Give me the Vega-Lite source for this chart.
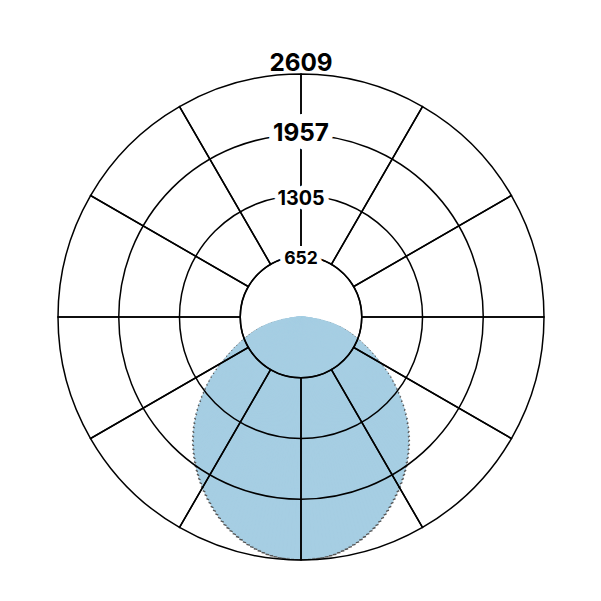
{
  "$schema": "https://vega.github.io/schema/vega-lite/v6.json",
  "width": 486,
  "height": 486,
  "autosize": {"type": "none"},
  "padding": {"left": 58, "top": 74, "right": 57, "bottom": 41},
  "background": "white",
  "config": {"view": {"stroke": null}, "font": "Inter"},
  "datasets": {
    "intensity": [
      {"gamma": -90, "cd": 0}, {"gamma": -89, "cd": 12}, {"gamma": -88, "cd": 27}, {"gamma": -87, "cd": 47},
      {"gamma": -86, "cd": 67}, {"gamma": -85, "cd": 94}, {"gamma": -84, "cd": 121}, {"gamma": -83, "cd": 157},
      {"gamma": -82, "cd": 193}, {"gamma": -81, "cd": 231}, {"gamma": -80, "cd": 268}, {"gamma": -79, "cd": 309},
      {"gamma": -78, "cd": 350}, {"gamma": -77, "cd": 385}, {"gamma": -76, "cd": 419}, {"gamma": -75, "cd": 451},
      {"gamma": -74, "cd": 482}, {"gamma": -73, "cd": 512}, {"gamma": -72, "cd": 542}, {"gamma": -71, "cd": 574},
      {"gamma": -70, "cd": 605}, {"gamma": -69, "cd": 638}, {"gamma": -68, "cd": 670}, {"gamma": -67, "cd": 705},
      {"gamma": -66, "cd": 739}, {"gamma": -65, "cd": 776}, {"gamma": -64, "cd": 812}, {"gamma": -63, "cd": 850},
      {"gamma": -62, "cd": 888}, {"gamma": -61, "cd": 927}, {"gamma": -60, "cd": 966}, {"gamma": -59, "cd": 1012},
      {"gamma": -58, "cd": 1058}, {"gamma": -57, "cd": 1103}, {"gamma": -56, "cd": 1148}, {"gamma": -55, "cd": 1190},
      {"gamma": -54, "cd": 1232}, {"gamma": -53, "cd": 1273}, {"gamma": -52, "cd": 1314}, {"gamma": -51, "cd": 1355},
      {"gamma": -50, "cd": 1396}, {"gamma": -49, "cd": 1439}, {"gamma": -48, "cd": 1481}, {"gamma": -47, "cd": 1522},
      {"gamma": -46, "cd": 1563}, {"gamma": -45, "cd": 1602}, {"gamma": -44, "cd": 1640}, {"gamma": -43, "cd": 1677},
      {"gamma": -42, "cd": 1714}, {"gamma": -41, "cd": 1750}, {"gamma": -40, "cd": 1785}, {"gamma": -39, "cd": 1818},
      {"gamma": -38, "cd": 1851}, {"gamma": -37, "cd": 1884}, {"gamma": -36, "cd": 1917}, {"gamma": -35, "cd": 1949},
      {"gamma": -34, "cd": 1980}, {"gamma": -33, "cd": 2010}, {"gamma": -32, "cd": 2040}, {"gamma": -31, "cd": 2070},
      {"gamma": -30, "cd": 2099}, {"gamma": -29, "cd": 2128}, {"gamma": -28, "cd": 2156}, {"gamma": -27, "cd": 2184},
      {"gamma": -26, "cd": 2211}, {"gamma": -25, "cd": 2238}, {"gamma": -24, "cd": 2264}, {"gamma": -23, "cd": 2290},
      {"gamma": -22, "cd": 2315}, {"gamma": -21, "cd": 2339}, {"gamma": -20, "cd": 2363}, {"gamma": -19, "cd": 2384},
      {"gamma": -18, "cd": 2405}, {"gamma": -17, "cd": 2425}, {"gamma": -16, "cd": 2444}, {"gamma": -15, "cd": 2462},
      {"gamma": -14, "cd": 2480}, {"gamma": -13, "cd": 2496}, {"gamma": -12, "cd": 2511}, {"gamma": -11, "cd": 2525},
      {"gamma": -10, "cd": 2539}, {"gamma": -9, "cd": 2550}, {"gamma": -8, "cd": 2561}, {"gamma": -7, "cd": 2569},
      {"gamma": -6, "cd": 2576}, {"gamma": -5, "cd": 2581}, {"gamma": -4, "cd": 2585}, {"gamma": -3, "cd": 2588},
      {"gamma": -2, "cd": 2591}, {"gamma": -1, "cd": 2592}, {"gamma": 0, "cd": 2593}, {"gamma": 1, "cd": 2592},
      {"gamma": 2, "cd": 2591}, {"gamma": 3, "cd": 2588}, {"gamma": 4, "cd": 2585}, {"gamma": 5, "cd": 2581},
      {"gamma": 6, "cd": 2576}, {"gamma": 7, "cd": 2569}, {"gamma": 8, "cd": 2561}, {"gamma": 9, "cd": 2550},
      {"gamma": 10, "cd": 2539}, {"gamma": 11, "cd": 2525}, {"gamma": 12, "cd": 2511}, {"gamma": 13, "cd": 2496},
      {"gamma": 14, "cd": 2480}, {"gamma": 15, "cd": 2462}, {"gamma": 16, "cd": 2444}, {"gamma": 17, "cd": 2425},
      {"gamma": 18, "cd": 2405}, {"gamma": 19, "cd": 2384}, {"gamma": 20, "cd": 2363}, {"gamma": 21, "cd": 2339},
      {"gamma": 22, "cd": 2315}, {"gamma": 23, "cd": 2290}, {"gamma": 24, "cd": 2264}, {"gamma": 25, "cd": 2238},
      {"gamma": 26, "cd": 2211}, {"gamma": 27, "cd": 2184}, {"gamma": 28, "cd": 2156}, {"gamma": 29, "cd": 2128},
      {"gamma": 30, "cd": 2099}, {"gamma": 31, "cd": 2070}, {"gamma": 32, "cd": 2040}, {"gamma": 33, "cd": 2010},
      {"gamma": 34, "cd": 1980}, {"gamma": 35, "cd": 1949}, {"gamma": 36, "cd": 1917}, {"gamma": 37, "cd": 1884},
      {"gamma": 38, "cd": 1851}, {"gamma": 39, "cd": 1818}, {"gamma": 40, "cd": 1785}, {"gamma": 41, "cd": 1750},
      {"gamma": 42, "cd": 1714}, {"gamma": 43, "cd": 1677}, {"gamma": 44, "cd": 1640}, {"gamma": 45, "cd": 1602},
      {"gamma": 46, "cd": 1563}, {"gamma": 47, "cd": 1522}, {"gamma": 48, "cd": 1481}, {"gamma": 49, "cd": 1439},
      {"gamma": 50, "cd": 1396}, {"gamma": 51, "cd": 1355}, {"gamma": 52, "cd": 1314}, {"gamma": 53, "cd": 1273},
      {"gamma": 54, "cd": 1232}, {"gamma": 55, "cd": 1190}, {"gamma": 56, "cd": 1148}, {"gamma": 57, "cd": 1103},
      {"gamma": 58, "cd": 1058}, {"gamma": 59, "cd": 1012}, {"gamma": 60, "cd": 966}, {"gamma": 61, "cd": 927},
      {"gamma": 62, "cd": 888}, {"gamma": 63, "cd": 850}, {"gamma": 64, "cd": 812}, {"gamma": 65, "cd": 776},
      {"gamma": 66, "cd": 739}, {"gamma": 67, "cd": 705}, {"gamma": 68, "cd": 670}, {"gamma": 69, "cd": 638},
      {"gamma": 70, "cd": 605}, {"gamma": 71, "cd": 574}, {"gamma": 72, "cd": 542}, {"gamma": 73, "cd": 512},
      {"gamma": 74, "cd": 482}, {"gamma": 75, "cd": 451}, {"gamma": 76, "cd": 419}, {"gamma": 77, "cd": 385},
      {"gamma": 78, "cd": 350}, {"gamma": 79, "cd": 309}, {"gamma": 80, "cd": 268}, {"gamma": 81, "cd": 231},
      {"gamma": 82, "cd": 193}, {"gamma": 83, "cd": 157}, {"gamma": 84, "cd": 121}, {"gamma": 85, "cd": 94},
      {"gamma": 86, "cd": 67}, {"gamma": 87, "cd": 47}, {"gamma": 88, "cd": 27}, {"gamma": 89, "cd": 12},
      {"gamma": 90, "cd": 0}
    ],
    "spokes": [
      {"deg": 0}, {"deg": 30}, {"deg": 60}, {"deg": 90}, {"deg": 120}, {"deg": 150},
      {"deg": 180}, {"deg": 210}, {"deg": 240}, {"deg": 270}, {"deg": 300}, {"deg": 330}
    ],
    "rings": [
      {"ring": 652.25, "label": "652"},
      {"ring": 1304.5, "label": "1305"},
      {"ring": 1956.75, "label": "1957"}
    ],
    "outer": [
      {"ring": 2609, "label": "2609"}
    ]
  },
  "resolve": {"scale": {"theta": "independent"}},
  "layer": [
    {
      "data": {"name": "intensity"},
      "mark": {"type": "arc", "fill": "#555555", "radiusOffset": 2, "thetaOffset": -0.02, "theta2Offset": 0.02},
      "encoding": {
        "theta": {
          "field": "gamma", "type": "quantitative",
          "bin": {"step": 1, "anchor": -90.5, "extent": [-90.5, 90.5]},
          "scale": {"domain": [-90.5, 90.5], "range": [1.56207, 4.72112]}
        },
        "radius": {
          "field": "cd", "type": "quantitative", "stack": null,
          "scale": {"type": "linear", "domain": [0, 2609], "range": [0, 243], "zero": true, "nice": false}
        }
      }
    },
    {
      "data": {"name": "intensity"},
      "mark": {"type": "arc", "fill": "#a6cee3", "stroke": "#a6cee3", "strokeWidth": 1.2},
      "encoding": {
        "theta": {
          "field": "gamma", "type": "quantitative",
          "bin": {"step": 1, "anchor": -90.5, "extent": [-90.5, 90.5]},
          "scale": {"domain": [-90.5, 90.5], "range": [1.56207, 4.72112]}
        },
        "radius": {"field": "cd", "type": "quantitative", "stack": null}
      }
    },
    {
      "data": {"name": "spokes"},
      "mark": {"type": "arc", "filled": false, "stroke": "black", "strokeWidth": 1.5},
      "encoding": {
        "theta": {"aggregate": "count", "type": "quantitative", "stack": true, "scale": {"domain": [0, 12]}},
        "radius": {"datum": 2609, "type": "quantitative"},
        "radius2": {"datum": 652.25},
        "detail": {"field": "deg", "type": "quantitative"},
        "order": {"field": "deg", "type": "quantitative"}
      }
    },
    {
      "data": {"name": "rings"},
      "mark": {"type": "arc", "filled": false, "stroke": "black", "strokeWidth": 1.5},
      "encoding": {
        "theta": {"value": 0},
        "theta2": {"value": 6.2832},
        "radius": {"field": "ring", "type": "quantitative", "stack": null}
      }
    },
    {
      "data": {"name": "rings"},
      "transform": [{"filter": "datum.ring < 1900"}],
      "mark": {"type": "text", "fontWeight": "bold", "baseline": "middle", "dy": 3, "fill": "white", "stroke": "white", "strokeWidth": 10, "strokeJoin": "round"},
      "encoding": {
        "theta": {"value": 0},
        "radius": {"field": "ring", "type": "quantitative"},
        "text": {"field": "label", "type": "nominal"},
        "size": {"field": "ring", "type": "quantitative", "scale": {"domain": [652.25, 1304.5, 1956.75], "range": [17.5, 19.7, 24.3]}, "legend": null}
      }
    },
    {
      "data": {"name": "rings"},
      "transform": [{"filter": "datum.ring > 1900"}],
      "mark": {"type": "text", "fontWeight": "bold", "baseline": "middle", "dy": -1, "fill": "white", "stroke": "white", "strokeWidth": 18, "strokeJoin": "round"},
      "encoding": {
        "theta": {"value": 0},
        "radius": {"field": "ring", "type": "quantitative"},
        "text": {"field": "label", "type": "nominal"},
        "size": {"field": "ring", "type": "quantitative", "legend": null}
      }
    },
    {
      "data": {"name": "rings"},
      "transform": [{"filter": "datum.ring < 1900"}],
      "mark": {"type": "text", "fontWeight": "bold", "baseline": "middle", "dy": 3, "fill": "black"},
      "encoding": {
        "theta": {"value": 0},
        "radius": {"field": "ring", "type": "quantitative"},
        "text": {"field": "label", "type": "nominal"},
        "size": {"field": "ring", "type": "quantitative", "legend": null}
      }
    },
    {
      "data": {"name": "rings"},
      "transform": [{"filter": "datum.ring > 1900"}],
      "mark": {"type": "text", "fontWeight": "bold", "baseline": "middle", "dy": -1, "fill": "black"},
      "encoding": {
        "theta": {"value": 0},
        "radius": {"field": "ring", "type": "quantitative"},
        "text": {"field": "label", "type": "nominal"},
        "size": {"field": "ring", "type": "quantitative", "legend": null}
      }
    },
    {
      "data": {"name": "outer"},
      "mark": {"type": "text", "fontWeight": "bold", "baseline": "alphabetic", "dy": -3, "fontSize": 24.3, "fill": "black"},
      "encoding": {
        "theta": {"value": 0},
        "radius": {"field": "ring", "type": "quantitative"},
        "text": {"field": "label", "type": "nominal"}
      }
    }
  ]
}
